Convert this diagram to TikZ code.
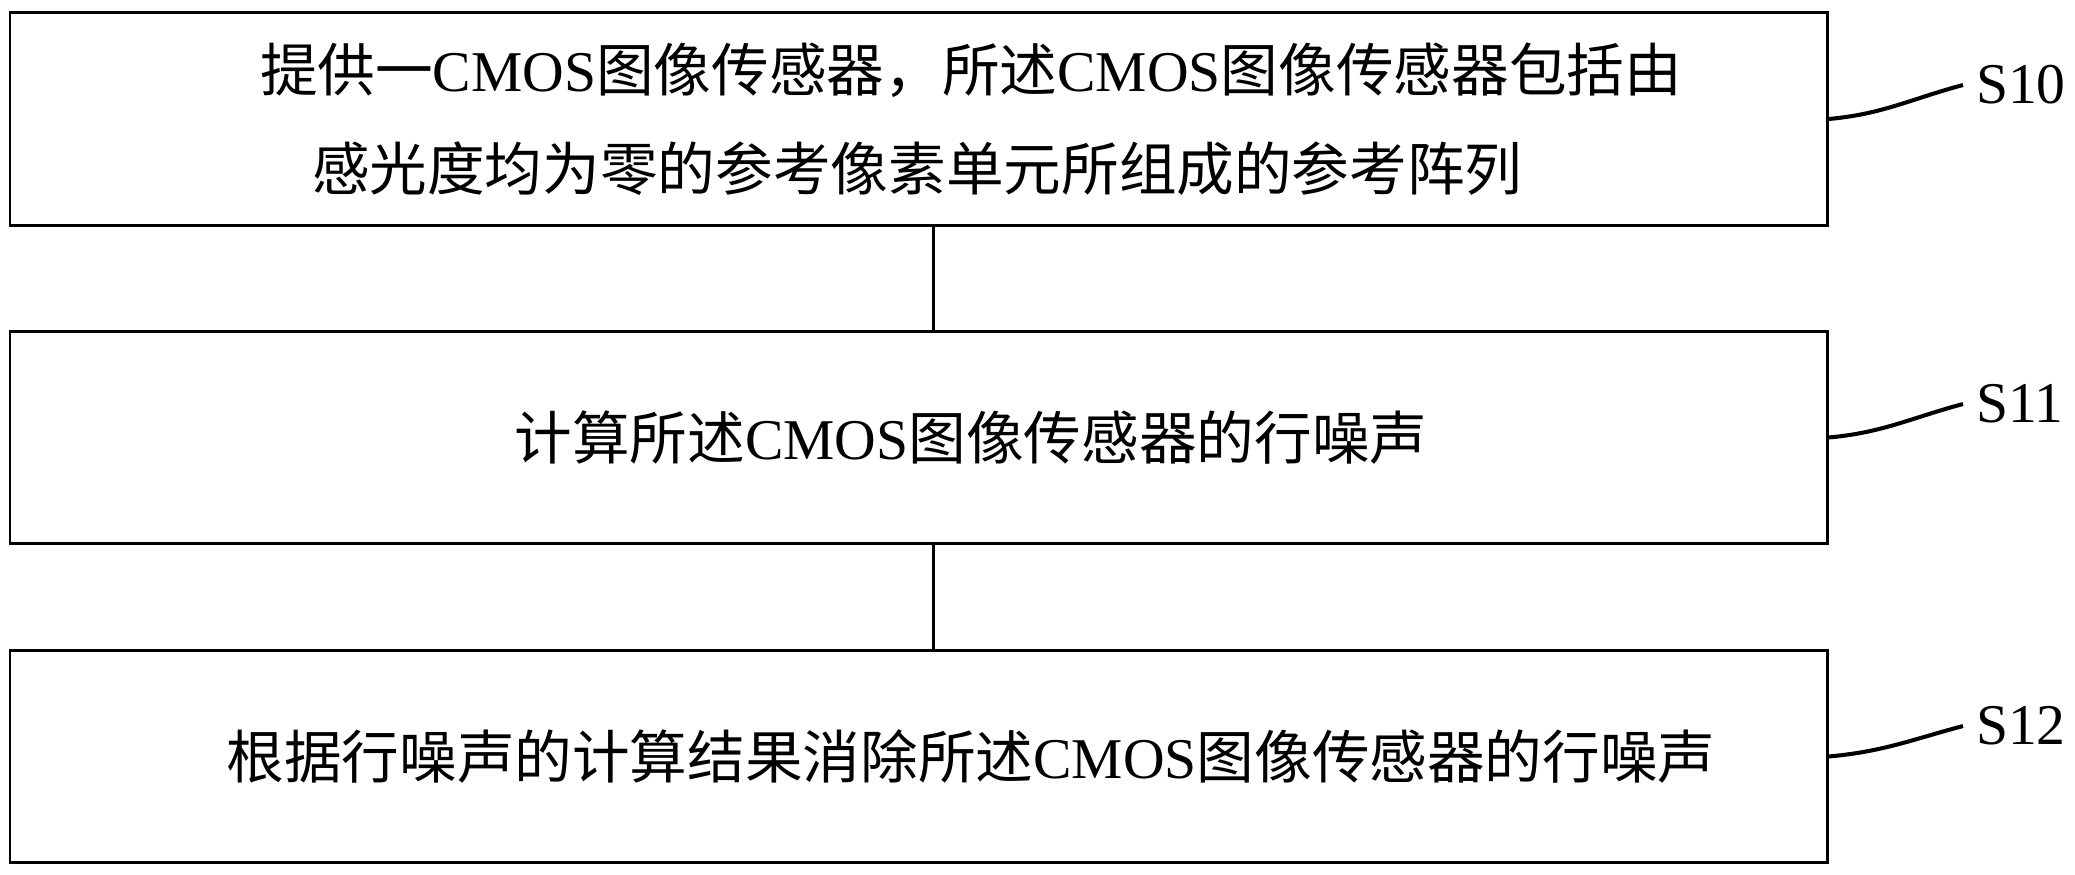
\documentclass[tikz,border=0pt]{standalone}
\usepackage{fontspec}
\setmainfont{Liberation Serif}
\newfontfamily\cjk{Noto Sans CJK SC}
\newcommand{\zh}[1]{{\cjk #1}}

\begin{document}
\begin{tikzpicture}
            \tikzstyle{flow box} = [draw, line width=1.7pt, minimum width=36.34cm, minimum height=4.25cm, align=left, font=\fontsize{32.8pt}{56pt}\selectfont]
            \tikzstyle{leader line} = [line width=2.3pt]
            \tikzstyle{step label} = [inner sep=0.26cm, outer sep=0pt, anchor=west, font=\fontsize{32.8pt}{40pt}\selectfont]
            \useasboundingbox (0, 0) rectangle (41.5, -17.5);
            \node[flow box] (s10) at (18.37, -2.38) {\hspace*{2.1cm}\zh{提供一}CMOS\zh{图像传感器，所述}CMOS\zh{图像传感器包括由}\\
                \hspace*{3.14cm}\zh{感光度均为零的参考像素单元所组成的参考阵列}};
            \node[flow box] (s11) at (18.37, -8.75) {\hspace*{2.1cm}\zh{计算所述}CMOS\zh{图像传感器的行噪声}};
            \node[flow box] (s12) at (18.37, -15.13) {\hspace*{2.1cm}\zh{根据行噪声的计算结果消除所述}CMOS\zh{图像传感器的行噪声}};
            \node[step label] (l10) at (39.26, -1.70) {S10};
            \node[step label] (l11) at (39.26, -8.08) {S11};
            \node[step label] (l12) at (39.26, -14.52) {S12};
            \draw[line width=1.7pt] ([xshift=0.3cm]s10.south) -- ([xshift=0.3cm]s11.north);
            \draw[line width=1.7pt] ([xshift=0.3cm]s11.south) -- ([xshift=0.3cm]s12.north);
            \foreach \i in {10, 11, 12} {
                \draw[leader line] (s\i.east) to[out=5, in=195] (l\i.west);
            }
        \end{tikzpicture}
\end{document}
